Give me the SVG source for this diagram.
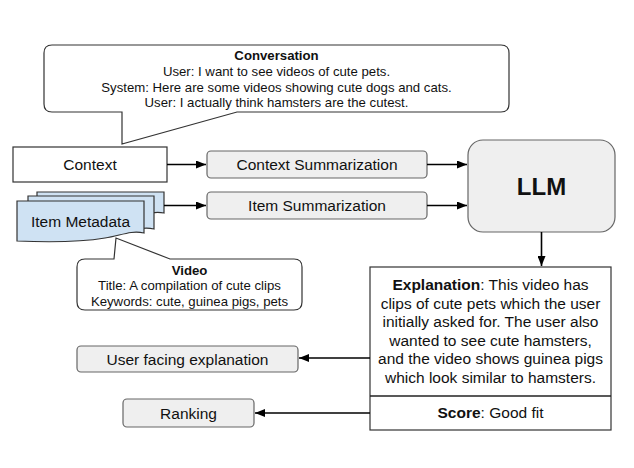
<svg xmlns="http://www.w3.org/2000/svg" width="634" height="468" viewBox="0 0 634 468">
<defs>
<marker id="ah" markerUnits="userSpaceOnUse" markerWidth="10" markerHeight="8" refX="10" refY="4" orient="auto">
<path d="M0,0 L10,4 L0,8 z" fill="#000"/>
</marker>
<style>
text{font-family:"Liberation Sans",Arial,sans-serif;fill:#111;text-anchor:middle}
.t13{font-size:13.2px}
.t15{font-size:15.5px}
.b{font-weight:bold}
.gray{fill:#efefef;stroke:#666;stroke-width:1.2}
.white{fill:#fff;stroke:#333;stroke-width:1.2}
.doc{fill:#cfe2f3;stroke:#333;stroke-width:1.2}
.conn{stroke:#000;stroke-width:1.6;fill:none;marker-end:url(#ah)}
</style>
</defs>
<rect width="634" height="468" fill="#fff"/>

<g id="conversation">
<path class="white" d="M52,45 H501 Q509,45 509,53 V104 Q509,112 501,112 H237 L122,144 V112 H52 Q44,112 44,104 V53 Q44,45 52,45 Z"/>
<text class="t13 b" x="276.5" y="60">Conversation</text>
<text class="t13" x="276.5" y="76">User: I want to see videos of cute pets.</text>
<text class="t13" x="276.5" y="91.5">System: Here are some videos showing cute dogs and cats.</text>
<text class="t13" x="276.5" y="107">User: I actually think hamsters are the cutest.</text>
</g>

<g id="context">
<rect class="white" x="13" y="147" width="154" height="35"/>
<text class="t15" x="90" y="170">Context</text>
</g>

<g id="item-metadata">
<path class="doc" d="M37,192 H164 V213 C155,211 150,213 140,215 H37 Z"/>
<path class="doc" d="M28,196 H154 V229 C140,226 130,232 110,235 H28 Z"/>
<path class="doc" d="M17,201 H144 V233 C130,230 120,236 105,238 C75,243 40,242 17,241 Z"/>
<text class="t15" x="80.5" y="227">Item Metadata</text>
</g>

<g id="video">
<path class="white" d="M85,259 H114 L116,238 L170,259 H294 Q302,259 302,267 V302 Q302,310 294,310 H85 Q77,310 77,302 V267 Q77,259 85,259 Z"/>
<text class="t13 b" x="189.5" y="275">Video</text>
<text class="t13" x="189.5" y="290">Title: A compilation of cute clips</text>
<text class="t13" x="189.5" y="306">Keywords: cute, guinea pigs, pets</text>
</g>

<g id="context-summarization">
<rect class="gray" x="207" y="151" width="220" height="27" rx="4"/>
<text class="t15" x="317" y="170">Context Summarization</text>
</g>

<g id="item-summarization">
<rect class="gray" x="207" y="192" width="220" height="27" rx="4"/>
<text class="t15" x="317" y="211">Item Summarization</text>
</g>

<g id="llm">
<rect class="gray" x="468" y="140" width="147" height="92" rx="15"/>
<text class="b" x="541.5" y="195" style="font-size:24px">LLM</text>
</g>

<g id="output">
<rect class="white" x="370" y="267" width="241" height="163"/>
<line x1="370" y1="396" x2="611" y2="396" stroke="#222" stroke-width="1.6"/>
<text class="t15" x="490.5" y="290"><tspan class="b">Explanation</tspan>: This video has</text>
<text class="t15" x="490.5" y="308.6">clips of cute pets which the user</text>
<text class="t15" x="490.5" y="327.2">initially asked for. The user also</text>
<text class="t15" x="490.5" y="345.8">wanted to see cute hamsters,</text>
<text class="t15" x="490.5" y="364.4">and the video shows guinea pigs</text>
<text class="t15" x="490.5" y="383">which look similar to hamsters.</text>
<text class="t15" x="490.5" y="418"><tspan class="b">Score</tspan>: Good fit</text>
</g>

<g id="user-facing-explanation">
<rect class="gray" x="77" y="346" width="221" height="26" rx="4"/>
<text class="t15" x="187.5" y="364.5">User facing explanation</text>
</g>

<g id="ranking">
<rect class="gray" x="123" y="399" width="131" height="28" rx="4"/>
<text class="t15" x="188.5" y="418.5">Ranking</text>
</g>

<g id="connectors">
<line class="conn" x1="167" y1="164.5" x2="206" y2="164.5"/>
<line class="conn" x1="164" y1="205.5" x2="206" y2="205.5"/>
<line class="conn" x1="427" y1="164.5" x2="467" y2="164.5"/>
<line class="conn" x1="427" y1="205.5" x2="467" y2="205.5"/>
<line class="conn" x1="541.5" y1="232" x2="541.5" y2="266"/>
<line class="conn" x1="370" y1="358" x2="299" y2="358"/>
<line class="conn" x1="370" y1="413" x2="255" y2="413"/>
</g>
</svg>
